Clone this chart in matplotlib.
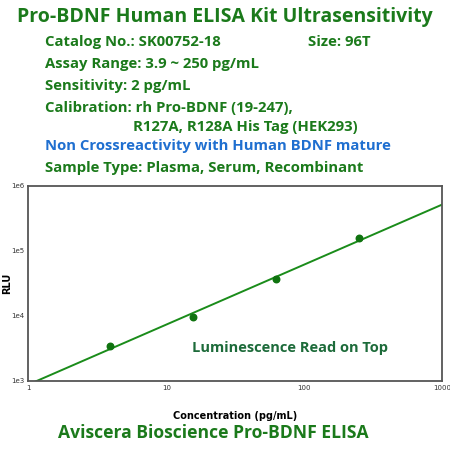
import numpy as np
import matplotlib
matplotlib.use('Agg')
import matplotlib.pyplot as plt

# standard curve data
conc = [3.9, 15.6, 62.5, 250]
rlu = [3450, 9550, 37200, 156700]

x_ticks = [1, 10, 100, 1000]
x_tick_labels = ['1', '10', '100', '1000']
y_ticks = [1e3, 1e4, 1e5, 1e6]
y_tick_labels = ['1e3', '1e4', '1e5', '1e6']

info_lines = [
    'Catalog No.: SK00752-18',
    'Assay Range: 3.9 ~ 250 pg/mL',
    'Sensitivity: 2 pg/mL',
    'Calibration: rh Pro-BDNF (19-247),',
]

green = '#1b7a1b'
dark_green = '#1d6b3a'
blue = '#1f6fd0'
font = 'Open Sans'
fs = 10.7

fig = plt.figure(figsize=(4.5, 4.5), dpi=100)
ax = fig.add_axes([0.0633, 0.154, 0.919, 0.433])

# fit in log-log space
coef = np.polyfit(np.log10(conc), np.log10(rlu), 1)
xs = np.logspace(0, 3, 50)
ax.plot(xs, 10 ** np.polyval(coef, np.log10(xs)), color='#1a8c1a', linewidth=1.4, zorder=2)
ax.scatter(conc, rlu, color='#0f730f', s=22, zorder=3)

ax.set_xscale('log')
ax.set_yscale('log')
ax.set_xlim(1, 1000)
ax.set_ylim(1e3, 1e6)
ax.set_xticks(x_ticks)
ax.set_xticklabels(x_tick_labels)
ax.set_yticks(y_ticks)
ax.set_yticklabels(y_tick_labels)
ax.minorticks_off()
ax.tick_params(length=0, labelsize=5, colors='#333333', pad=3)
for s in ax.spines.values():
    s.set_color('#555555')
    s.set_linewidth(1.3)
ax.set_ylabel('RLU', fontsize=7, fontweight='bold')
ax.yaxis.set_label_coords(-0.04, 0.5)
ax.set_xlabel('Concentration (pg/mL)', fontsize=7, fontweight='bold')
ax.xaxis.set_label_coords(0.5, -0.155)

ax.text(0.632, 0.168, 'Luminescence Read on Top', transform=ax.transAxes,
        ha='center', va='center', fontsize=10.5, fontweight='bold',
        color=dark_green, family=font)

# header text
fig.text(0.5, 1 - 17 / 450, 'Pro-BDNF Human ELISA Kit Ultrasensitivity',
         ha='center', va='center', fontsize=14, fontweight='bold', color=green, family=font)
for i, line in enumerate(info_lines):
    fig.text(45 / 450, 1 - (42 + 22 * i) / 450, line, ha='left', va='center',
             fontsize=fs, fontweight='bold', color=green, family=font)
fig.text(308 / 450, 1 - 42 / 450, 'Size: 96T', ha='left', va='center',
         fontsize=fs, fontweight='bold', color=green, family=font)
fig.text(133 / 450, 1 - 127 / 450, 'R127A, R128A His Tag (HEK293)', ha='left', va='center',
         fontsize=fs, fontweight='bold', color=green, family=font)
fig.text(45 / 450, 1 - 146 / 450, 'Non Crossreactivity with Human BDNF mature', ha='left',
         va='center', fontsize=fs, fontweight='bold', color=blue, family=font)
fig.text(45 / 450, 1 - 168 / 450, 'Sample Type: Plasma, Serum, Recombinant', ha='left',
         va='center', fontsize=fs, fontweight='bold', color=green, family=font)

fig.text(213 / 450, 1 - 433 / 450, 'Aviscera Bioscience Pro-BDNF ELISA', ha='center',
         va='center', fontsize=12.6, fontweight='bold', color=green, family=font)

fig.savefig('out.png', dpi=100)
